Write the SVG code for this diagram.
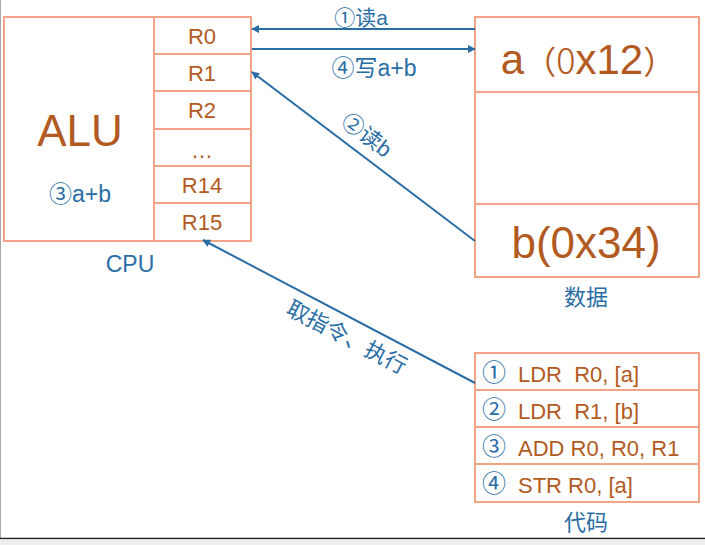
<svg xmlns="http://www.w3.org/2000/svg" width="705" height="545" viewBox="0 0 705 545">
<defs>
<style>
.box{fill:#fff;stroke:#F3A386;stroke-width:2}
.div{stroke:#F3A386;stroke-width:2;fill:none}
.br{fill:#B25A22;font-family:"Liberation Sans","Noto Sans CJK SC",sans-serif}
.bl{fill:#2A6DA5;font-family:"Liberation Sans","Noto Sans CJK SC",sans-serif}
.cn{font-family:"Noto Sans CJK SC",sans-serif}
.con{stroke:#2A6DA5;stroke-width:2;fill:none;marker-end:url(#ah)}
</style>
<marker id="ah" viewBox="0 0 10 10" refX="9" refY="5" markerWidth="4" markerHeight="4" orient="auto" markerUnits="strokeWidth">
<path d="M0,0 L10,5 L0,10 z" fill="#2A6DA5"/>
</marker>
</defs>
<rect x="0" y="0" width="705" height="545" fill="#fff"/>
<line x1="0.5" y1="0" x2="0.5" y2="538" stroke="#aaa" stroke-width="1"/>
<line x1="0" y1="538.5" x2="705" y2="538.5" stroke="#222" stroke-width="1.5"/>
<rect x="0" y="539.5" width="705" height="6" fill="#eee"/>

<g id="cpu">
<rect class="box" x="4" y="17" width="247" height="224"/>
<line class="div" x1="154" y1="17" x2="154" y2="241"/>
<line class="div" x1="154" y1="54" x2="251" y2="54"/>
<line class="div" x1="154" y1="91" x2="251" y2="91"/>
<line class="div" x1="154" y1="129" x2="251" y2="129"/>
<line class="div" x1="154" y1="166" x2="251" y2="166"/>
<line class="div" x1="154" y1="203" x2="251" y2="203"/>
<text class="br" x="80" y="146" font-size="44" text-anchor="middle">ALU</text>
<text class="bl" x="80" y="202" font-size="23" text-anchor="middle"><tspan class="cn">③</tspan>a+b</text>
<g font-size="22" text-anchor="middle">
<text class="br" x="202" y="44">R0</text>
<text class="br" x="202" y="81">R1</text>
<text class="br" x="202" y="118">R2</text>
<text class="br" x="202" y="158">…</text>
<text class="br" x="202" y="193">R14</text>
<text class="br" x="202" y="230">R15</text>
</g>
<text class="bl" x="130" y="272" font-size="23" text-anchor="middle">CPU</text>
</g>

<g id="data">
<rect class="box" x="475" y="17" width="224" height="260"/>
<line class="div" x1="475" y1="92" x2="699" y2="92"/>
<line class="div" x1="475" y1="204" x2="699" y2="204"/>
<text class="br" x="588" y="74" font-size="42" text-anchor="middle">a<tspan class="cn" font-size="32">（</tspan><tspan class="cn" font-size="36" font-weight="300">0</tspan>x12<tspan class="cn" font-size="32">）</tspan></text>
<text class="br" x="586" y="258" font-size="44" text-anchor="middle">b(0x34)</text>
<text class="bl cn" x="586" y="305" font-size="22" text-anchor="middle">数据</text>
</g>

<g id="code">
<rect class="box" x="475" y="353" width="224" height="149"/>
<line class="div" x1="475" y1="390" x2="699" y2="390"/>
<line class="div" x1="475" y1="427" x2="699" y2="427"/>
<line class="div" x1="475" y1="464" x2="699" y2="464"/>
<g font-size="22">
<text class="bl cn" x="482" y="381" font-size="24">①</text><text class="br" x="518" y="382" xml:space="preserve">LDR  R0, [a]</text>
<text class="bl cn" x="482" y="418" font-size="24">②</text><text class="br" x="518" y="419" xml:space="preserve">LDR  R1, [b]</text>
<text class="bl cn" x="482" y="455" font-size="24">③</text><text class="br" x="518" y="456">ADD R0, R0, R1</text>
<text class="bl cn" x="482" y="492" font-size="24">④</text><text class="br" x="518" y="493">STR R0, [a]</text>
</g>
<text class="bl cn" x="586" y="530" font-size="22" text-anchor="middle">代码</text>
</g>

<g id="connectors">
<line class="con" x1="475" y1="29" x2="252" y2="29"/>
<line class="con" x1="252" y1="49" x2="475" y2="49"/>
<line class="con" x1="475" y1="241" x2="252" y2="72"/>
<line class="con" x1="475" y1="383" x2="203" y2="240"/>
<text class="bl" x="361" y="25" font-size="21" text-anchor="middle"><tspan class="cn">①读</tspan>a</text>
<text class="bl" x="374" y="76" font-size="23" text-anchor="middle"><tspan class="cn">④写</tspan>a+b</text>
<text class="bl" x="367" y="143" font-size="22" text-anchor="middle" transform="rotate(37.2 367 135)"><tspan class="cn">②读</tspan>b</text>
<text class="bl cn" x="347" y="345" font-size="22" text-anchor="middle" transform="rotate(27.7 347 337)">取指令、执行</text>
</g>
</svg>
